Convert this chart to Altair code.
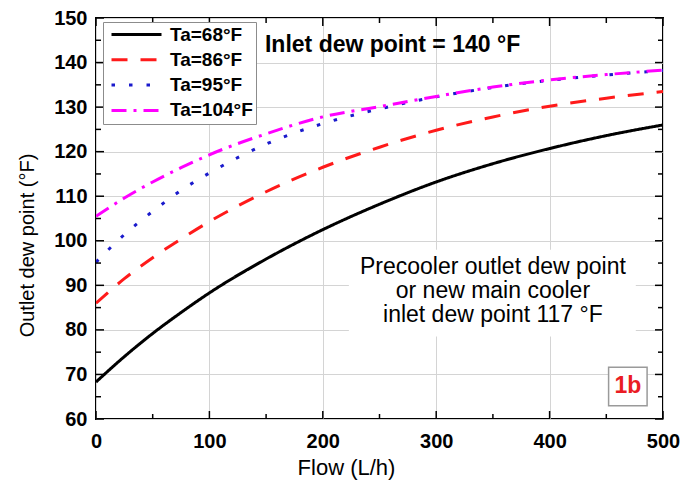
import altair as alt
import pandas as pd

# ---- data ----
flow = [0, 25, 50, 75, 100, 150, 200, 250, 300, 350, 400, 450, 500]
ta68 = [68.3, 74, 79.2, 83.9, 88.3, 95.9, 102.5, 108.2, 113.2, 117.3, 120.7, 123.6, 126]
ta86 = [86, 91.5, 96.2, 100.4, 104.3, 111, 116.5, 121, 124.8, 127.8, 130.2, 132, 133.5]
ta95 = [95.2, 101.4, 106.6, 111.3, 115.2, 121.7, 126.3, 129.6, 132.3, 134.4, 136, 137.2, 138.2]
ta104 = [105.5, 109.6, 113.2, 116.4, 119.3, 124, 127.8, 130.1, 132.4, 134.5, 136.1, 137.3, 138.3]

series = ["Ta=68°F", "Ta=86°F", "Ta=95°F", "Ta=104°F"]
colors = ["#000000", "#ff1a1a", "#1a1acc", "#ff00ff"]
dashes = [[1, 0], [16, 13], [3.5, 14], [15, 7, 3, 7]]

x_ticks = [0, 100, 200, 300, 400, 500]
x_minor = [50, 150, 250, 350, 450]
y_ticks = [60, 70, 80, 90, 100, 110, 120, 130, 140, 150]
y_minor = [65, 75, 85, 95, 105, 115, 125, 135, 145]

title_text = "Inlet dew point = 140 °F"
note_lines = ["Precooler outlet dew point", "or new main cooler", "inlet dew point 117 °F"]
tag_text = "1b"

W, H = 567, 401
FONT = "Liberation Sans"

rows = []
for name, vals in zip(series, [ta68, ta86, ta95, ta104]):
    for f, v in zip(flow, vals):
        rows.append({"flow": f, "dew": v, "series": name})
df = pd.DataFrame(rows)

xs = alt.Scale(domain=[0, 500], nice=False, zero=False)
ys = alt.Scale(domain=[60, 150], nice=False, zero=False)

x_axis = alt.Axis(values=x_ticks, grid=True, gridColor="#d4d4d4", gridWidth=1, ticks=False,
                  domain=False, labelFont=FONT, labelFontSize=20, labelFontWeight="bold",
                  labelColor="black", labelPadding=12, labelFlush=False, labelOverlap=False,
                  title="Flow (L/h)", titleFont=FONT, titleFontSize=22, titleFontWeight="normal",
                  titleColor="black", titlePadding=6, titleX=250)
y_axis = alt.Axis(values=y_ticks, grid=True, gridColor="#d4d4d4", gridWidth=1, ticks=False,
                  domain=False, labelFont=FONT, labelFontSize=20, labelFontWeight="bold",
                  labelColor="black", labelPadding=9, labelFlush=False, labelOverlap=False,
                  title="Outlet dew point (°F)", titleFont=FONT, titleFontSize=20,
                  titleFontWeight="normal", titleColor="black", titlePadding=16, titleY=227)

base = alt.Chart(df)

lines = base.mark_line(strokeWidth=3, interpolate="monotone", clip=True).encode(
    x=alt.X("flow:Q", scale=xs, axis=x_axis),
    y=alt.Y("dew:Q", scale=ys, axis=y_axis),
    color=alt.Color("series:N", scale=alt.Scale(domain=series, range=colors),
                    legend=alt.Legend(title=None, orient="none", legendX=7, legendY=4,
                                      symbolType="stroke", symbolSize=2500, symbolStrokeWidth=3,
                                      symbolOffset=4,
                                      clipHeight=19, rowPadding=5.3, padding=3,
                                      labelFont=FONT, labelFontSize=19, labelFontWeight="bold",
                                      labelColor="black",
                                      strokeColor="#8c8c8c", fillColor="white",
                                      labelOffset=7, labelLimit=200)),
    strokeDash=alt.StrokeDash("series:N", scale=alt.Scale(domain=series, range=dashes),
                              legend=None),
    order=alt.Order("flow:Q"),
)

# white background behind the note
bg_df = pd.DataFrame({"x": [223], "x2": [476], "y": [98], "y2": [78.5]})
bg = alt.Chart(bg_df).mark_rect(color="white").encode(
    x=alt.X("x:Q", scale=xs), x2="x2:Q", y=alt.Y("y:Q", scale=ys), y2="y2:Q")

def tick_layer(vals, length, side, orient):
    d = pd.DataFrame({"v": vals})
    c = alt.Chart(d).mark_rule(color="black", strokeWidth=1.5)
    if orient == "x":
        if side == "bottom":
            return c.encode(x=alt.X("v:Q", scale=xs), y=alt.value(H), y2=alt.value(H - length))
        return c.encode(x=alt.X("v:Q", scale=xs), y=alt.value(0), y2=alt.value(length))
    if side == "left":
        return c.encode(y=alt.Y("v:Q", scale=ys), x=alt.value(0), x2=alt.value(length))
    return c.encode(y=alt.Y("v:Q", scale=ys), x=alt.value(W), x2=alt.value(W - length))

ticks = []
for side in ["bottom", "top"]:
    ticks.append(tick_layer(x_ticks, 8, side, "x"))
    ticks.append(tick_layer(x_minor, 5, side, "x"))
for side in ["left", "right"]:
    ticks.append(tick_layer(y_ticks, 8, side, "y"))
    ticks.append(tick_layer(y_minor, 5, side, "y"))

t1 = alt.Chart(pd.DataFrame({"x": [149], "y": [144.0], "t": [title_text]})).mark_text(
    align="left", baseline="middle", font=FONT, fontSize=23, fontWeight="bold", color="black"
).encode(x=alt.X("x:Q", scale=xs), y=alt.Y("y:Q", scale=ys), text="t:N")

t2 = alt.Chart(pd.DataFrame({"x": [350], "y": [94.2]})).mark_text(
    align="center", baseline="middle", font=FONT, fontSize=23, color="black",
    lineHeight=24, text=note_lines
).encode(x=alt.X("x:Q", scale=xs), y=alt.Y("y:Q", scale=ys))

tag_df = pd.DataFrame({"x": [469], "y": [67.3], "t": [tag_text]})
tag_box = alt.Chart(tag_df).mark_square(size=1482, fill="white", stroke="#9a9a9a",
                                         strokeWidth=1.5, opacity=1, filled=False).encode(
    x=alt.X("x:Q", scale=xs), y=alt.Y("y:Q", scale=ys))
tag_txt = alt.Chart(tag_df).mark_text(align="center", baseline="middle", font=FONT,
                                       fontSize=23, fontWeight="bold", color="#ea1c24").encode(
    x=alt.X("x:Q", scale=xs), y=alt.Y("y:Q", scale=ys), text="t:N")

chart = alt.layer(bg, lines, *ticks, t1, t2, tag_box, tag_txt).properties(
    width=W, height=H,
    autosize=alt.AutoSizeParams(type="none"),
    padding={"left": 88, "top": 10, "right": 25, "bottom": 61},
    background="white",
).configure_view(stroke="black", strokeWidth=2)

chart.save("out.html", embed_options={"renderer": "svg", "actions": False})
